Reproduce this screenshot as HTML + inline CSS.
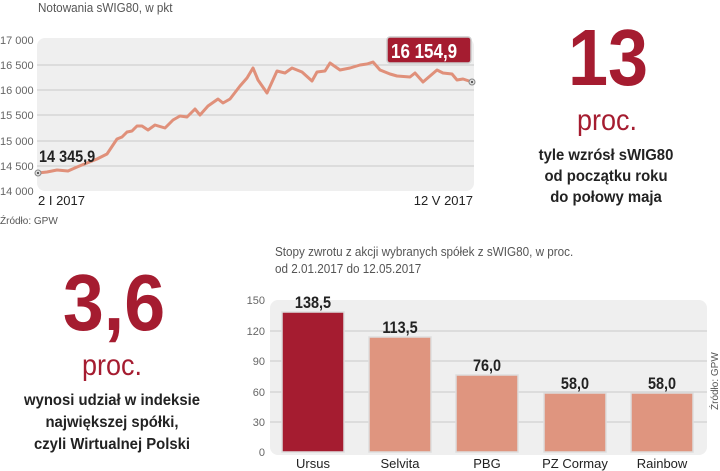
<!DOCTYPE html>
<html><head><meta charset="utf-8"><style>
body{margin:0;background:#fff;width:720px;height:471px;overflow:hidden;font-family:"Liberation Sans",sans-serif}
svg{position:absolute;left:0;top:0}
</style></head><body>
<svg width="720" height="471" viewBox="0 0 720 471" font-family="Liberation Sans, sans-serif">
<text x="38" y="12" font-size="13" fill="#555" transform="translate(38 0) scale(0.9 1) translate(-38 0)">Notowania sWIG80, w pkt</text>
<rect x="37" y="38" width="437" height="153" rx="8" fill="#efefef"/>
<g stroke="#c8c8c8" stroke-width="1">
<line x1="37" y1="65" x2="474" y2="65"/><line x1="37" y1="90" x2="474" y2="90"/><line x1="37" y1="115" x2="474" y2="115"/><line x1="37" y1="141" x2="474" y2="141"/><line x1="37" y1="166" x2="474" y2="166"/></g>
<g font-size="11" fill="#666">
<text x="0" y="44">17 000</text><text x="0" y="69">16 500</text><text x="0" y="94">16 000</text><text x="0" y="119">15 500</text><text x="0" y="145">15 000</text><text x="0" y="170">14 500</text><text x="0" y="195">14 000</text></g>
<polyline fill="none" stroke="#e0907a" stroke-width="3" stroke-linejoin="round" points="38,173 47,172 57,170 68,171 77,167 87,163 97,159 107,154 117,139 122,137 127,132 132,131 137,126 142,126 148,130 155,125 165,128 173,120 180,116 187,117 195,109 200,115 208,106 218,99 223,103 230,99 240,86 247,78 253,68 258,80 267,93 277,71 285,73 292,68 302,72 312,81 317,72 325,71 330,63 340,70 350,68 360,65 367,64 373,62 380,70 390,74 397,76 410,77 415,73 423,82 437,70 443,73 452,74 457,80 463,79 472,82"/>
<circle cx="38" cy="173" r="3" fill="#ddd" stroke="#888"/><circle cx="38" cy="173" r="1" fill="#333"/>
<circle cx="472" cy="82" r="3" fill="#ddd" stroke="#888"/><circle cx="472" cy="82" r="1" fill="#333"/>
<text x="39" y="162" font-size="17" font-weight="bold" fill="#222" transform="translate(39 0) scale(0.85 1) translate(-39 0)">14 345,9</text>
<rect x="387" y="37" width="84" height="26" rx="3" fill="#a51c30" stroke="#ccc" stroke-width="1.5"/>
<text x="391" y="58" font-size="20" font-weight="bold" fill="#fff" transform="translate(391 0) scale(0.85 1) translate(-391 0)">16 154,9</text>
<text x="38" y="205" font-size="13" fill="#222">2 I 2017</text>
<text x="473" y="205" font-size="13" fill="#222" text-anchor="end">12 V 2017</text>
<text x="0" y="224" font-size="10" fill="#555">Źródło: GPW</text>

<text x="608" y="85" font-size="80" font-weight="bold" fill="#a51c30" text-anchor="middle" transform="translate(608 0) scale(0.9 1) translate(-608 0)">13</text>
<text x="607" y="130" font-size="30" fill="#a51c30" text-anchor="middle" transform="translate(607 0) scale(0.9 1) translate(-607 0)">proc.</text>
<g font-size="16" font-weight="bold" fill="#222" text-anchor="middle" transform="translate(606 0) scale(0.93 1) translate(-606 0)">
<text x="606" y="160">tyle wzrósł sWIG80</text><text x="606" y="181">od początku roku</text><text x="606" y="202">do połowy maja</text></g>

<text x="114" y="330" font-size="80" font-weight="bold" fill="#a51c30" text-anchor="middle" transform="translate(114 0) scale(0.92 1) translate(-114 0)">3,6</text>
<text x="112" y="375" font-size="30" fill="#a51c30" text-anchor="middle" transform="translate(112 0) scale(0.9 1) translate(-112 0)">proc.</text>
<g font-size="16" font-weight="bold" fill="#222" text-anchor="middle" transform="translate(112 0) scale(0.93 1) translate(-112 0)">
<text x="112" y="405">wynosi udział w indeksie</text><text x="112" y="427">największej spółki,</text><text x="112" y="449">czyli Wirtualnej Polski</text></g>

<g font-size="13" fill="#555" transform="translate(275 0) scale(0.9 1) translate(-275 0)">
<text x="275" y="256">Stopy zwrotu z akcji wybranych spółek z sWIG80, w proc.</text>
<text x="275" y="273">od 2.01.2017 do 12.05.2017</text></g>
<rect x="270" y="300" width="437" height="155" rx="8" fill="#efefef"/>
<g stroke="#c8c8c8"><line x1="270" y1="331" x2="707" y2="331"/><line x1="270" y1="361" x2="707" y2="361"/><line x1="270" y1="392" x2="707" y2="392"/><line x1="270" y1="422" x2="707" y2="422"/></g>
<g font-size="11" fill="#666" text-anchor="end">
<text x="265" y="304">150</text><text x="265" y="335">120</text><text x="265" y="365">90</text><text x="265" y="396">60</text><text x="265" y="426">30</text><text x="265" y="456">0</text></g>
<g stroke="#ddd" stroke-width="1.5">
<rect x="282" y="312" width="62" height="140" fill="#a51c30"/>
<rect x="369" y="337" width="62" height="115" fill="#df957f"/>
<rect x="456" y="375" width="62" height="77" fill="#df957f"/>
<rect x="544" y="393" width="62" height="59" fill="#df957f"/>
<rect x="631" y="393" width="62" height="59" fill="#df957f"/></g>
<g font-size="17" font-weight="bold" fill="#222" text-anchor="middle">
<text x="313" y="308" transform="translate(313 0) scale(0.85 1) translate(-313 0)">138,5</text>
<text x="400" y="333" transform="translate(400 0) scale(0.85 1) translate(-400 0)">113,5</text>
<text x="487" y="371" transform="translate(487 0) scale(0.85 1) translate(-487 0)">76,0</text>
<text x="575" y="389" transform="translate(575 0) scale(0.85 1) translate(-575 0)">58,0</text>
<text x="662" y="389" transform="translate(662 0) scale(0.85 1) translate(-662 0)">58,0</text></g>
<g font-size="13" fill="#222" text-anchor="middle">
<text x="313" y="468">Ursus</text><text x="400" y="468">Selvita</text><text x="487" y="468">PBG</text><text x="575" y="468">PZ Cormay</text><text x="662" y="468">Rainbow</text></g>
<text x="718" y="410" font-size="10" fill="#555" transform="rotate(-90 718 410)">Źródło: GPW</text>
</svg>
</body></html>
